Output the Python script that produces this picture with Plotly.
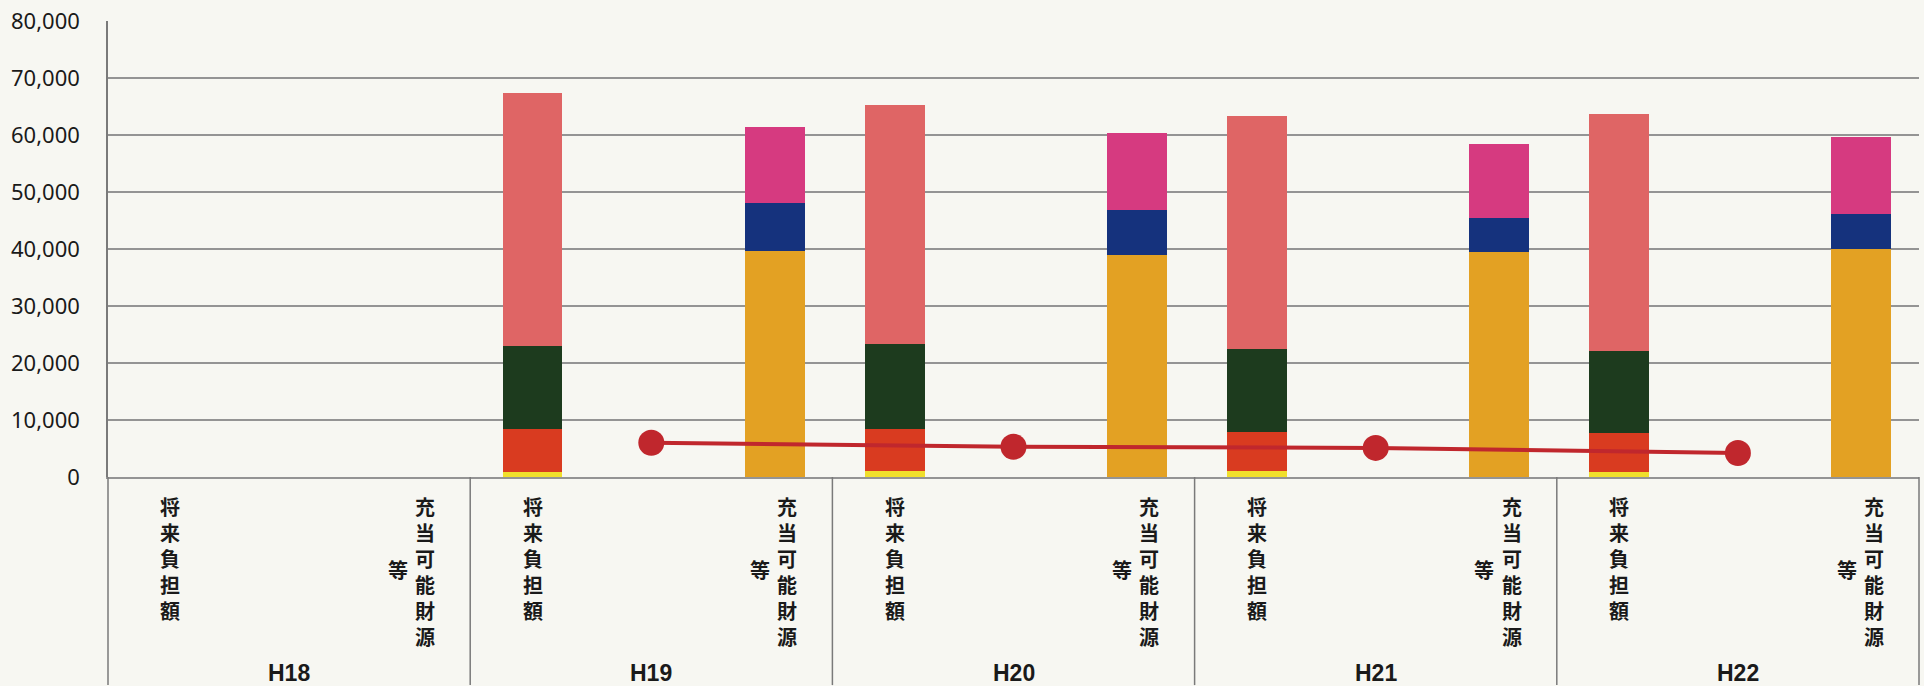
import plotly.graph_objects as go

# ---------------- data ----------------
years = ["H18", "H19", "H20", "H21", "H22"]
kinds = ["将来負担額", "充当可能財源等"]

# 将来負担額 — stacked segments, bottom to top
fut_names = ["債務負担行為に基づく支出予定額", "退職手当負担見込額", "公営企業債等繰入見込額", "地方債現在高"]
fut_yellow = [None, 900, 1050, 1050, 900]
fut_red = [None, 7450, 7450, 6850, 6800]
fut_green = [None, 14550, 14900, 14600, 14400]
fut_salmon = [None, 44500, 41900, 40900, 41500]

# 充当可能財源等 — stacked segments, bottom to top
res_names = ["基準財政需要額算入見込額", "特定財源見込額", "充当可能基金"]
res_orange = [None, 39600, 38900, 39500, 40000]
res_navy = [None, 8500, 8000, 5900, 6100]
res_magenta = [None, 13300, 13400, 13000, 13600]

# line series
net_name = "将来負担額－充当可能財源等"
net_burden = [None, 6000, 5300, 5100, 4200]

y_tickvals = [0, 10000, 20000, 30000, 40000, 50000, 60000, 70000, 80000]
y_ticktext = ["0", "10,000", "20,000", "30,000", "40,000", "50,000", "60,000", "70,000", "80,000"]

# ---------------- style ----------------
BG = "#F7F7F2"
GRID = "#949494"
C_YELLOW = "#F0DF2C"
C_RED = "#D93B20"
C_GREEN = "#1D3B1E"
C_SALMON = "#DF6565"
C_ORANGE = "#E3A123"
C_NAVY = "#15327D"
C_MAGENTA = "#D63A80"
C_LINE = "#C0272D"

CJK = "Noto Sans CJK JP"
LATIN = "Liberation Sans, Arial, sans-serif"

n = len(years)
GROUP = 2.0          # each year occupies 2 x-units
OFF_FUT = 0.344      # bar centre offset from group start
OFF_RES = 0.318      # bar centre offset from group end
BAR_W = 0.331

x_fut = [GROUP * i + OFF_FUT for i in range(n)]
x_res = [GROUP * i + GROUP - OFF_RES for i in range(n)]
x_mid = [GROUP * i + GROUP / 2 for i in range(n)]

fig = go.Figure()

for name, vals, col in zip(fut_names, [fut_yellow, fut_red, fut_green, fut_salmon],
                           [C_YELLOW, C_RED, C_GREEN, C_SALMON]):
    fig.add_trace(go.Bar(x=x_fut, y=vals, name=name, width=BAR_W,
                         marker=dict(color=col, line=dict(width=0))))

for name, vals, col in zip(res_names, [res_orange, res_navy, res_magenta],
                           [C_ORANGE, C_NAVY, C_MAGENTA]):
    fig.add_trace(go.Bar(x=x_res, y=vals, name=name, width=BAR_W,
                         marker=dict(color=col, line=dict(width=0))))

fig.add_trace(go.Scatter(x=x_mid, y=net_burden, name=net_name, mode="lines+markers",
                         line=dict(color=C_LINE, width=4),
                         marker=dict(color=C_LINE, size=26, symbol="circle"),
                         connectgaps=False))

PLOT_B = 209
PLOT_H = 686 - 19 - PLOT_B

annotations = []
shapes = []
cjk_font = dict(family=CJK, size=20, color="#1a1a1a", weight=700)
for i, yr in enumerate(years):
    k1 = kinds[0]
    annotations.append(dict(x=x_fut[i], y=0, xref="x", yref="paper",
                            text="<br>".join(k1), showarrow=False,
                            xanchor="center", yanchor="top", yshift=-14,
                            borderpad=0, font=cjk_font))
    k2 = kinds[1]
    annotations.append(dict(x=GROUP * i + GROUP - 0.25, y=0, xref="x", yref="paper",
                            text="<br>".join(k2[:6]), showarrow=False,
                            xanchor="center", yanchor="top", yshift=-14,
                            borderpad=0, font=cjk_font))
    annotations.append(dict(x=GROUP * i + GROUP - 0.40, y=0, xref="x", yref="paper",
                            text=k2[6:], showarrow=False,
                            xanchor="center", yanchor="middle", yshift=-92,
                            borderpad=0, font=cjk_font))
    annotations.append(dict(x=x_mid[i], y=0, xref="x", yref="paper",
                            text=yr, showarrow=False,
                            xanchor="center", yanchor="middle", yshift=-196,
                            font=dict(family=LATIN, size=23, color="#1a1a1a", weight=700)))

for i in range(n + 1):
    shapes.append(dict(type="line", xref="paper", yref="paper",
                       x0=i / n, x1=i / n, y0=-PLOT_B / PLOT_H, y1=0,
                       line=dict(color="#7A7A7A", width=1.5)))

fig.update_layout(
    width=1924, height=686,
    margin=dict(l=108, r=5, t=19, b=PLOT_B),
    paper_bgcolor=BG, plot_bgcolor=BG,
    barmode="stack",
    showlegend=False,
    annotations=annotations,
    shapes=shapes,
    xaxis=dict(range=[0, GROUP * n], showticklabels=False, showgrid=False,
               zeroline=False, showline=True, linecolor=GRID, linewidth=1.5,
               fixedrange=True),
    yaxis=dict(range=[0, 80000], tickvals=y_tickvals, ticktext=y_ticktext,
               showgrid=True, gridcolor=GRID, gridwidth=1.5,
               zeroline=False, showline=True, linecolor="#7A7A7A", linewidth=1.5,
               ticks="", ticklabelstandoff=22,
               tickfont=dict(family="Noto Sans, DejaVu Sans, sans-serif", size=22, color="#1a1a1a")),
)

fig.write_html("out.html")
